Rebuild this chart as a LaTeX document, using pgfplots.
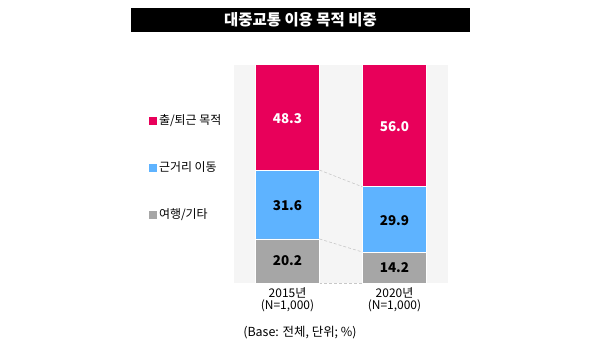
\documentclass[border=0pt]{standalone}
\usepackage{pgfplots}
\pgfplotsset{compat=1.18}
\usepackage{fontspec}
\setmainfont{Noto Sans CJK KR}
\definecolor{cRed}{HTML}{E8005A}
\definecolor{cBlue}{HTML}{5EB3FF}
\definecolor{cGray}{HTML}{A6A6A6}
\definecolor{cPanel}{HTML}{F5F5F5}
\definecolor{cDash}{HTML}{C8C8C8}
\begin{document}
\begin{tikzpicture}[x=1bp,y=1bp]
\path (0,0) rectangle (600,-357);
\fill[black] (131,-8) rectangle (470,-32);
\node[text=white, font=\bfseries\fontsize{15.5}{17}\selectfont] at (300.5,-20) {대중교통 이용 목적 비중};
\begin{axis}[at={(234bp,-283bp)}, anchor=south west, scale only axis,
  width=214bp, height=218bp,
  xmin=-0.5, xmax=1.5, ymin=0, ymax=100,
  ybar stacked, bar width=64bp,
  axis background/.style={fill=cPanel},
  axis line style={draw=none},
  ytick=\empty, xtick={0,1}, major tick length=0pt,
  xticklabels={{2015년\\(N=1,000)},{2020년\\(N=1,000)}},
  xticklabel style={align=center, font=\fontsize{12}{12}\selectfont, yshift=-1bp},
  reverse legend,
  legend style={at={(-0.411,0.79)}, anchor=north west, draw=none, fill=none,
    font=\fontsize{12}{13}\selectfont, row sep=31.5bp,
    /tikz/every even column/.append style={column sep=3bp}},
  legend cell align=left,
]
\addplot[fill=cGray, draw=white, line width=0.8pt,
  legend image code/.code={\fill[cGray] (0bp,-3.5bp) rectangle (7bp,3.5bp);}]
  coordinates {(0,20.2) (1,14.2)};
\addlegendentry{여행/기타}
\addplot[fill=cBlue, draw=white, line width=0.8pt,
  legend image code/.code={\fill[cBlue] (0bp,-3.5bp) rectangle (7bp,3.5bp);}]
  coordinates {(0,31.6) (1,29.9)};
\addlegendentry{근거리 이동}
\addplot[fill=cRed, draw=white, line width=0.8pt,
  legend image code/.code={\fill[cRed] (0bp,-3.5bp) rectangle (7bp,3.5bp);}]
  coordinates {(0,48.3) (1,56.0)};
\addlegendentry{출/퇴근 목적}
\end{axis}
\begin{axis}[at={(234bp,-283bp)}, anchor=south west, scale only axis,
  width=214bp, height=218bp,
  xmin=-0.5, xmax=1.5, ymin=0, ymax=100, hide axis, clip=false,
  nodes near coords, point meta=explicit symbolic,
  every node near coord/.append style={anchor=center, font=\bfseries\fontsize{13.5}{15}\selectfont},
]
\addplot[densely dashed, cDash, line width=0.6pt, nodes near coords=] coordinates {(0.299,51.8) (0.701,44.1)};
\addplot[densely dashed, cDash, line width=0.6pt, nodes near coords=] coordinates {(0.299,20.2) (0.701,14.2)};
\addplot[densely dashed, cDash, line width=0.6pt, nodes near coords=] coordinates {(0.299,0) (0.701,0)};
\addplot[draw=none, mark=none, every node near coord/.append style={text=black}]
  coordinates {(0,10.1)[20.2] (1,7.1)[14.2]};
\addplot[draw=none, mark=none, every node near coord/.append style={text=black}]
  coordinates {(0,35.5)[31.6] (1,28.6)[29.9]};
\addplot[draw=none, mark=none, every node near coord/.append style={text=white}]
  coordinates {(0,75.6)[48.3] (1,71.8)[56.0]};
\end{axis}
\node[font=\fontsize{12.5}{14}\selectfont] at (300,-333) {(Base: 전체, 단위; \%)};
\end{tikzpicture}
\end{document}
